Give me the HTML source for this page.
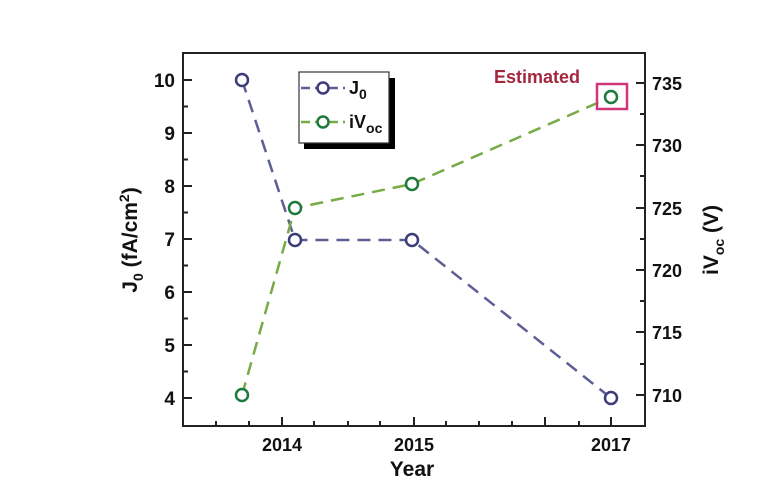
<!DOCTYPE html>
<html><head><meta charset="utf-8"><style>body{margin:0;background:#fff}svg{display:block}</style></head><body>
<svg width="770" height="496" xmlns="http://www.w3.org/2000/svg" font-family="Liberation Sans, sans-serif" font-weight="bold">
<rect width="770" height="496" fill="#fff"/>
<g stroke="#222" stroke-width="2" fill="none">
<rect x="183" y="53" width="462" height="373"/>
<path d="M183 80h9M183 133h9M183 186h9M183 239h9M183 292h9M183 345h9M183 398h9"/>
<path d="M183 106.5h5M183 159.5h5M183 212.5h5M183 265.5h5M183 318.5h5M183 371.5h5"/>
<path d="M645 83h-9M645 145h-9M645 208h-9M645 270h-9M645 332h-9M645 395h-9"/>
<path d="M645 114h-5M645 176h-5M645 239h-5M645 301h-5M645 364h-5"/>
<path d="M282 426v-9M414 426v-9M545 426v-9M611 426v-9"/>
<path d="M216 426v-5M249 426v-5M314 426v-5M348 426v-5M380 426v-5M446 426v-5M479 426v-5M512 426v-5M579 426v-5"/>
</g>
<g font-size="19" fill="#111" text-anchor="end">
<text x="175" y="87">10</text><text x="175" y="140">9</text><text x="175" y="193">8</text><text x="175" y="246">7</text><text x="175" y="299">6</text><text x="175" y="352">5</text><text x="175" y="405">4</text>
</g>
<g font-size="18" fill="#111" text-anchor="start">
<text x="652" y="90">735</text><text x="652" y="152">730</text><text x="652" y="215">725</text><text x="652" y="277">720</text><text x="652" y="339">715</text><text x="652" y="402">710</text>
</g>
<g font-size="18" fill="#111" text-anchor="middle">
<text x="282" y="451">2014</text><text x="414" y="451">2015</text><text x="611" y="451">2017</text>
<text x="412" y="476" font-size="21">Year</text>
</g>
<text transform="translate(137,240) rotate(-90)" text-anchor="middle" font-size="21" fill="#111">J<tspan font-size="14" dy="6">0</tspan><tspan dy="-6"> (fA/cm</tspan><tspan font-size="14" dy="-8">2</tspan><tspan dy="8">)</tspan></text>
<text transform="translate(718,240) rotate(-90)" text-anchor="middle" font-size="21" fill="#111">iV<tspan font-size="14" dy="6">oc</tspan><tspan dy="-6"> (V)</tspan></text>
<polyline points="242,80 295,240 412,240 611,398" fill="none" stroke="#5c5e94" stroke-width="2.5" stroke-dasharray="13,8"/>
<polyline points="242,395 295,208 412,184 611,97" fill="none" stroke="#76ab45" stroke-width="2.5" stroke-dasharray="13,8"/>
<g fill="#fff" stroke="#3c3c78" stroke-width="2.5">
<circle cx="242" cy="80" r="6"/><circle cx="295" cy="240" r="6"/><circle cx="412" cy="240" r="6"/><circle cx="611" cy="398" r="6"/>
</g>
<g fill="#fff" stroke="#1e7a3c" stroke-width="2.5">
<circle cx="242" cy="395" r="6"/><circle cx="295" cy="208" r="6"/><circle cx="412" cy="184" r="6"/><circle cx="611" cy="97" r="6"/>
</g>
<rect x="597" y="84" width="30" height="25" fill="none" stroke="#d0357a" stroke-width="2.5"/>
<text x="494" y="83" font-size="18" fill="#a3283e">Estimated</text>
<rect x="304" y="78" width="91" height="71" fill="#000"/>
<rect x="299" y="72" width="90" height="71" fill="#fff" stroke="#333" stroke-width="1.2"/>
<line x1="301" y1="88" x2="345" y2="88" stroke="#5c5e94" stroke-width="2.5" stroke-dasharray="9,5"/>
<circle cx="323" cy="88" r="5.5" fill="#fff" stroke="#3c3c78" stroke-width="2.5"/>
<text x="349" y="94" font-size="18" fill="#111">J<tspan font-size="14" dy="5">0</tspan></text>
<line x1="301" y1="122" x2="345" y2="122" stroke="#76ab45" stroke-width="2.5" stroke-dasharray="9,5"/>
<circle cx="323" cy="122" r="5.5" fill="#fff" stroke="#1e7a3c" stroke-width="2.5"/>
<text x="349" y="128" font-size="18" fill="#111">iV<tspan font-size="14" dy="5">oc</tspan></text>
</svg>
</body></html>
